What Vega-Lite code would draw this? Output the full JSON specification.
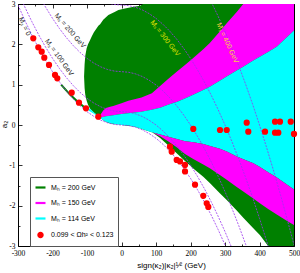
{
  "$schema": "https://vega.github.io/schema/vega-lite/v6.json",
  "width": 276,
  "height": 242,
  "autosize": "none",
  "padding": {"left": 18, "top": 4, "right": 6, "bottom": 27},
  "config": {
    "view": {"stroke": "black", "strokeWidth": 1},
    "axis": {"domain": false, "grid": false, "tickColor": "black", "tickWidth": 0.8, "labelFont": "Liberation Serif", "labelFontSize": 7.5, "labelColor": "black", "titleFont": "Liberation Sans", "titleFontSize": 8, "titleFontWeight": "normal", "titleColor": "black", "labelFlush": false, "labelOverlap": false}
  },
  "resolve": {"axis": {"x": "independent", "y": "independent"}},
  "layer": [
    {
      "data": {"values": [
        {"x": -108.5, "lo": 1.2, "hi": 1.2}, {"x": -107, "lo": 0.92, "hi": 1.5}, {"x": -105, "lo": 0.75, "hi": 1.72}, {"x": -101, "lo": 0.6, "hi": 1.9}, {"x": -97, "lo": 0.5, "hi": 2.0}, {"x": -91, "lo": 0.4, "hi": 2.11}, {"x": -86, "lo": 0.36, "hi": 2.2}, {"x": -80, "lo": 0.31, "hi": 2.3}, {"x": -72, "lo": 0.255, "hi": 2.4}, {"x": -67, "lo": 0.22, "hi": 2.46}, {"x": -62, "lo": 0.19, "hi": 2.5}, {"x": -53, "lo": 0.12, "hi": 2.61}, {"x": -38, "lo": 0.05, "hi": 2.73}, {"x": -20, "lo": 0.02, "hi": 2.8}, {"x": -9, "lo": 0.018, "hi": 2.851}, {"x": 10, "lo": -0.01, "hi": 2.89}, {"x": 35, "lo": -0.04, "hi": 2.93}, {"x": 54, "lo": -0.08, "hi": 2.955}, {"x": 63, "lo": -0.11, "hi": 3.0}, {"x": 68, "lo": -0.124, "hi": 3.0}, {"x": 88, "lo": -0.18, "hi": 3.0}, {"x": 112, "lo": -0.235, "hi": 3.0}, {"x": 135, "lo": -0.29, "hi": 3.0}, {"x": 160, "lo": -0.35, "hi": 3.0}, {"x": 184, "lo": -0.4, "hi": 3.0}, {"x": 208, "lo": -0.43, "hi": 3.0}, {"x": 237, "lo": -0.47, "hi": 3.0}, {"x": 256, "lo": -0.52, "hi": 3.0}, {"x": 285, "lo": -0.59, "hi": 3.0}, {"x": 305, "lo": -0.66, "hi": 3.0}, {"x": 334, "lo": -0.78, "hi": 3.0}, {"x": 353, "lo": -0.85, "hi": 3.0}, {"x": 382, "lo": -0.95, "hi": 3.0}, {"x": 401, "lo": -1.04, "hi": 3.0}, {"x": 425, "lo": -1.17, "hi": 3.0}, {"x": 450, "lo": -1.3, "hi": 3.0}, {"x": 480, "lo": -1.48, "hi": 3.0}, {"x": 500, "lo": -1.6, "hi": 3.0}
      ]},
      "mark": {"type": "area", "color": "#008000", "clip": true},
      "encoding": {
        "x": {"field": "x", "type": "quantitative", "scale": {"domain": [-300, 500], "nice": false, "zero": false},
              "axis": {"orient": "bottom", "values": [-300, -200, -100, 0, 100, 200, 300, 400, 500], "tickSize": -4, "labelPadding": 7, "labelExpr": "'' + datum.value", "title": "sign(κ₂)|κ₂|¹⁄² (GeV)", "titleX": 153, "titleY": 19, "titleBaseline": "middle"}},
        "y": {"field": "lo", "type": "quantitative", "scale": {"domain": [-3, 3], "nice": false, "zero": false},
              "axis": {"orient": "left", "values": [-3, -2, -1, 0, 1, 2, 3], "tickSize": -4, "labelPadding": 7, "labelExpr": "'' + datum.value", "title": "a₂", "titleX": -14, "titleY": 120, "titleBaseline": "middle"}},
        "y2": {"field": "hi"}
      }
    },
    {
      "data": {"values": [
        {"x": -64, "lo": 0.19, "hi": 0.22}, {"x": -53, "lo": 0.2, "hi": 0.36}, {"x": -45, "lo": 0.215, "hi": 0.42}, {"x": -33, "lo": 0.23, "hi": 0.45}, {"x": -24, "lo": 0.24, "hi": 0.47}, {"x": 0, "lo": 0.27, "hi": 0.54}, {"x": 20, "lo": 0.29, "hi": 0.6}, {"x": 58, "lo": 0.33, "hi": 0.68}, {"x": 88, "lo": 0.38, "hi": 0.79}, {"x": 112, "lo": 0.43, "hi": 0.97}, {"x": 135, "lo": 0.5, "hi": 1.14}, {"x": 160, "lo": 0.57, "hi": 1.32}, {"x": 184, "lo": 0.66, "hi": 1.49}, {"x": 208, "lo": 0.75, "hi": 1.66}, {"x": 237, "lo": 0.87, "hi": 1.88}, {"x": 256, "lo": 0.95, "hi": 2.03}, {"x": 285, "lo": 1.1, "hi": 2.32}, {"x": 305, "lo": 1.2, "hi": 2.52}, {"x": 334, "lo": 1.35, "hi": 2.8}, {"x": 353, "lo": 1.446, "hi": 3.0}, {"x": 382, "lo": 1.6, "hi": 3.0}, {"x": 401, "lo": 1.694, "hi": 3.0}, {"x": 425, "lo": 1.81, "hi": 3.0}, {"x": 450, "lo": 1.942, "hi": 3.0}, {"x": 480, "lo": 2.18, "hi": 3.0}, {"x": 500, "lo": 2.34, "hi": 3.0}
      ]},
      "mark": {"type": "area", "color": "#ff00ff", "clip": true},
      "encoding": {
        "x": {"field": "x", "type": "quantitative", "axis": {"orient": "bottom", "values": [-250, -150, -50, 50, 150, 250, 350, 450], "tickSize": -2, "labels": false, "title": null}},
        "y": {"field": "lo", "type": "quantitative", "axis": {"orient": "left", "values": [-2.5, -1.5, -0.5, 0.5, 1.5, 2.5], "tickSize": -2, "labels": false, "title": null}},
        "y2": {"field": "hi"}
      }
    },
    {
      "data": {"values": [
        {"x": -98, "lo": 0.37, "hi": 0.375}, {"x": -92, "lo": 0.34, "hi": 0.41}, {"x": -86, "lo": 0.31, "hi": 0.36}, {"x": -80, "lo": 0.28, "hi": 0.31}, {"x": -72, "lo": 0.23, "hi": 0.255}, {"x": -64, "lo": 0.18, "hi": 0.19}, {"x": -53, "lo": 0.12, "hi": 0.2}, {"x": -45, "lo": 0.08, "hi": 0.215}, {"x": -33, "lo": 0.045, "hi": 0.23}, {"x": -24, "lo": 0.03, "hi": 0.24}, {"x": 0, "lo": 0.0, "hi": 0.27}, {"x": 20, "lo": -0.015, "hi": 0.29}, {"x": 39, "lo": -0.042, "hi": 0.31}, {"x": 58, "lo": -0.09, "hi": 0.33}, {"x": 68, "lo": -0.124, "hi": 0.345}, {"x": 88, "lo": -0.18, "hi": 0.38}, {"x": 112, "lo": -0.235, "hi": 0.43}, {"x": 135, "lo": -0.29, "hi": 0.5}, {"x": 160, "lo": -0.35, "hi": 0.57}, {"x": 184, "lo": -0.4, "hi": 0.66}, {"x": 208, "lo": -0.43, "hi": 0.75}, {"x": 237, "lo": -0.47, "hi": 0.87}, {"x": 256, "lo": -0.52, "hi": 0.95}, {"x": 285, "lo": -0.59, "hi": 1.1}, {"x": 305, "lo": -0.66, "hi": 1.2}, {"x": 334, "lo": -0.78, "hi": 1.35}, {"x": 353, "lo": -0.85, "hi": 1.446}, {"x": 382, "lo": -0.95, "hi": 1.6}, {"x": 401, "lo": -1.04, "hi": 1.694}, {"x": 425, "lo": -1.17, "hi": 1.81}, {"x": 450, "lo": -1.3, "hi": 1.942}, {"x": 480, "lo": -1.48, "hi": 2.18}, {"x": 500, "lo": -1.6, "hi": 2.34}
      ]},
      "mark": {"type": "area", "color": "#00ffff", "clip": true},
      "encoding": {
        "x": {"field": "x", "type": "quantitative", "axis": {"orient": "top", "values": [-300, -200, -100, 0, 100, 200, 300, 400, 500], "tickSize": -4, "labels": false, "title": null}},
        "y": {"field": "lo", "type": "quantitative", "axis": {"orient": "right", "values": [-3, -2, -1, 0, 1, 2, 3], "tickSize": -4, "labels": false, "title": null}},
        "y2": {"field": "hi"}
      }
    },
    {
      "data": {"values": [
        {"x": 90, "lo": -0.185, "hi": -0.185}, {"x": 112, "lo": -0.32, "hi": -0.235}, {"x": 135, "lo": -0.5, "hi": -0.29}, {"x": 160, "lo": -0.7, "hi": -0.35}, {"x": 184, "lo": -0.89, "hi": -0.4}, {"x": 208, "lo": -1.08, "hi": -0.43}, {"x": 237, "lo": -1.28, "hi": -0.47}, {"x": 256, "lo": -1.44, "hi": -0.52}, {"x": 285, "lo": -1.69, "hi": -0.59}, {"x": 305, "lo": -1.86, "hi": -0.66}, {"x": 334, "lo": -2.12, "hi": -0.78}, {"x": 353, "lo": -2.3, "hi": -0.85}, {"x": 382, "lo": -2.56, "hi": -0.95}, {"x": 401, "lo": -2.73, "hi": -1.04}, {"x": 425, "lo": -3.0, "hi": -1.17}, {"x": 450, "lo": -3.0, "hi": -1.3}, {"x": 480, "lo": -3.0, "hi": -1.48}, {"x": 500, "lo": -3.0, "hi": -1.6}
      ]},
      "mark": {"type": "area", "color": "#008000", "clip": true},
      "encoding": {
        "x": {"field": "x", "type": "quantitative", "axis": {"orient": "top", "values": [-250, -150, -50, 50, 150, 250, 350, 450], "tickSize": -2, "labels": false, "title": null}},
        "y": {"field": "lo", "type": "quantitative", "axis": {"orient": "right", "values": [-2.5, -1.5, -0.5, 0.5, 1.5, 2.5], "tickSize": -2, "labels": false, "title": null}},
        "y2": {"field": "hi"}
      }
    },
    {
      "data": {"values": [
        {"x": 90, "lo": -0.185, "hi": -0.185}, {"x": 112, "lo": -0.28, "hi": -0.235}, {"x": 135, "lo": -0.4, "hi": -0.29}, {"x": 160, "lo": -0.55, "hi": -0.35}, {"x": 184, "lo": -0.72, "hi": -0.4}, {"x": 208, "lo": -0.84, "hi": -0.43}, {"x": 237, "lo": -0.98, "hi": -0.47}, {"x": 256, "lo": -1.07, "hi": -0.52}, {"x": 285, "lo": -1.24, "hi": -0.59}, {"x": 305, "lo": -1.36, "hi": -0.66}, {"x": 334, "lo": -1.535, "hi": -0.78}, {"x": 353, "lo": -1.65, "hi": -0.85}, {"x": 382, "lo": -1.82, "hi": -0.95}, {"x": 401, "lo": -1.94, "hi": -1.04}, {"x": 425, "lo": -2.08, "hi": -1.17}, {"x": 450, "lo": -2.22, "hi": -1.3}, {"x": 480, "lo": -2.38, "hi": -1.48}, {"x": 500, "lo": -2.48, "hi": -1.6}
      ]},
      "mark": {"type": "area", "color": "#ff00ff", "clip": true},
      "encoding": {
        "x": {"field": "x", "type": "quantitative", "axis": null},
        "y": {"field": "lo", "type": "quantitative", "axis": null},
        "y2": {"field": "hi"}
      }
    },
    {
      "data": {"values": [
        {"x": -175, "y": 1.0}, {"x": -150, "y": 0.76}, {"x": -130, "y": 0.6}, {"x": -106, "y": 0.43}
      ]},
      "mark": {"type": "line", "color": "#008000", "strokeWidth": 2, "clip": true},
      "encoding": {
        "x": {"field": "x", "type": "quantitative", "axis": null},
        "y": {"field": "y", "type": "quantitative", "axis": null}
      }
    },
    {
      "data": {"values": [
        {"ms": "0", "x": -300, "y": 2.974}, {"ms": "0", "x": -280, "y": 2.591}, {"ms": "0", "x": -260, "y": 2.234}, {"ms": "0", "x": -240, "y": 1.904}, {"ms": "0", "x": -220, "y": 1.6}, {"ms": "0", "x": -200, "y": 1.322}, {"ms": "0", "x": -180, "y": 1.071}, {"ms": "0", "x": -160, "y": 0.846}, {"ms": "0", "x": -140, "y": 0.648}, {"ms": "0", "x": -120, "y": 0.476}, {"ms": "0", "x": -100, "y": 0.33}, {"ms": "0", "x": -80, "y": 0.212}, {"ms": "0", "x": -60, "y": 0.119}, {"ms": "0", "x": -40, "y": 0.053}, {"ms": "0", "x": -20, "y": 0.013}, {"ms": "0", "x": 0, "y": 0}, {"ms": "0", "x": 20, "y": -0.013}, {"ms": "0", "x": 40, "y": -0.053}, {"ms": "0", "x": 60, "y": -0.119}, {"ms": "0", "x": 80, "y": -0.212}, {"ms": "0", "x": 100, "y": -0.33}, {"ms": "0", "x": 120, "y": -0.476}, {"ms": "0", "x": 140, "y": -0.648}, {"ms": "0", "x": 160, "y": -0.846}, {"ms": "0", "x": 180, "y": -1.071}, {"ms": "0", "x": 200, "y": -1.322}, {"ms": "0", "x": 220, "y": -1.6}, {"ms": "0", "x": 240, "y": -1.904}, {"ms": "0", "x": 260, "y": -2.234}, {"ms": "0", "x": 280, "y": -2.591}, {"ms": "0", "x": 300, "y": -2.974}, {"ms": "0", "x": 320, "y": -3.384},
        {"ms": "100", "x": -300, "y": 3.305}, {"ms": "100", "x": -280, "y": 2.922}, {"ms": "100", "x": -260, "y": 2.565}, {"ms": "100", "x": -240, "y": 2.235}, {"ms": "100", "x": -220, "y": 1.931}, {"ms": "100", "x": -200, "y": 1.653}, {"ms": "100", "x": -180, "y": 1.402}, {"ms": "100", "x": -160, "y": 1.177}, {"ms": "100", "x": -140, "y": 0.979}, {"ms": "100", "x": -120, "y": 0.807}, {"ms": "100", "x": -100, "y": 0.661}, {"ms": "100", "x": -80, "y": 0.543}, {"ms": "100", "x": -60, "y": 0.45}, {"ms": "100", "x": -40, "y": 0.384}, {"ms": "100", "x": -20, "y": 0.344}, {"ms": "100", "x": 0, "y": 0.331}, {"ms": "100", "x": 20, "y": 0.318}, {"ms": "100", "x": 40, "y": 0.278}, {"ms": "100", "x": 60, "y": 0.212}, {"ms": "100", "x": 80, "y": 0.119}, {"ms": "100", "x": 100, "y": 0.001}, {"ms": "100", "x": 120, "y": -0.146}, {"ms": "100", "x": 140, "y": -0.318}, {"ms": "100", "x": 160, "y": -0.515}, {"ms": "100", "x": 180, "y": -0.74}, {"ms": "100", "x": 200, "y": -0.992}, {"ms": "100", "x": 220, "y": -1.27}, {"ms": "100", "x": 240, "y": -1.574}, {"ms": "100", "x": 260, "y": -1.904}, {"ms": "100", "x": 280, "y": -2.261}, {"ms": "100", "x": 300, "y": -2.644}, {"ms": "100", "x": 320, "y": -3.054},
        {"ms": "200", "x": -240, "y": 3.226}, {"ms": "200", "x": -220, "y": 2.922}, {"ms": "200", "x": -200, "y": 2.644}, {"ms": "200", "x": -180, "y": 2.393}, {"ms": "200", "x": -160, "y": 2.168}, {"ms": "200", "x": -140, "y": 1.97}, {"ms": "200", "x": -120, "y": 1.798}, {"ms": "200", "x": -100, "y": 1.652}, {"ms": "200", "x": -80, "y": 1.534}, {"ms": "200", "x": -60, "y": 1.441}, {"ms": "200", "x": -40, "y": 1.375}, {"ms": "200", "x": -20, "y": 1.335}, {"ms": "200", "x": 0, "y": 1.322}, {"ms": "200", "x": 20, "y": 1.309}, {"ms": "200", "x": 40, "y": 1.269}, {"ms": "200", "x": 60, "y": 1.203}, {"ms": "200", "x": 80, "y": 1.11}, {"ms": "200", "x": 100, "y": 0.992}, {"ms": "200", "x": 120, "y": 0.846}, {"ms": "200", "x": 140, "y": 0.674}, {"ms": "200", "x": 160, "y": 0.476}, {"ms": "200", "x": 180, "y": 0.251}, {"ms": "200", "x": 200, "y": 0.0}, {"ms": "200", "x": 220, "y": -0.278}, {"ms": "200", "x": 240, "y": -0.582}, {"ms": "200", "x": 260, "y": -0.912}, {"ms": "200", "x": 280, "y": -1.269}, {"ms": "200", "x": 300, "y": -1.652}, {"ms": "200", "x": 320, "y": -2.062}, {"ms": "200", "x": 340, "y": -2.498}, {"ms": "200", "x": 360, "y": -2.961}, {"ms": "200", "x": 380, "y": -3.45},
        {"ms": "300", "x": -40, "y": 3.027}, {"ms": "300", "x": -20, "y": 2.987}, {"ms": "300", "x": 0, "y": 2.974}, {"ms": "300", "x": 20, "y": 2.961}, {"ms": "300", "x": 40, "y": 2.921}, {"ms": "300", "x": 60, "y": 2.855}, {"ms": "300", "x": 80, "y": 2.762}, {"ms": "300", "x": 100, "y": 2.644}, {"ms": "300", "x": 120, "y": 2.498}, {"ms": "300", "x": 140, "y": 2.326}, {"ms": "300", "x": 160, "y": 2.128}, {"ms": "300", "x": 180, "y": 1.903}, {"ms": "300", "x": 200, "y": 1.652}, {"ms": "300", "x": 220, "y": 1.374}, {"ms": "300", "x": 240, "y": 1.07}, {"ms": "300", "x": 260, "y": 0.74}, {"ms": "300", "x": 280, "y": 0.383}, {"ms": "300", "x": 300, "y": 0.0}, {"ms": "300", "x": 320, "y": -0.41}, {"ms": "300", "x": 340, "y": -0.846}, {"ms": "300", "x": 360, "y": -1.309}, {"ms": "300", "x": 380, "y": -1.798}, {"ms": "300", "x": 400, "y": -2.314}, {"ms": "300", "x": 420, "y": -2.856}, {"ms": "300", "x": 440, "y": -3.424},
        {"ms": "400", "x": 260, "y": 3.054}, {"ms": "400", "x": 280, "y": 2.697}, {"ms": "400", "x": 300, "y": 2.314}, {"ms": "400", "x": 320, "y": 1.904}, {"ms": "400", "x": 340, "y": 1.468}, {"ms": "400", "x": 360, "y": 1.005}, {"ms": "400", "x": 380, "y": 0.516}, {"ms": "400", "x": 400, "y": 0.0}, {"ms": "400", "x": 420, "y": -0.542}, {"ms": "400", "x": 440, "y": -1.11}, {"ms": "400", "x": 460, "y": -1.705}, {"ms": "400", "x": 480, "y": -2.327}, {"ms": "400", "x": 500, "y": -2.974}
      ]},
      "mark": {"type": "line", "color": "#9933ee", "strokeWidth": 0.8, "strokeDash": [2, 1.2], "clip": true},
      "encoding": {
        "x": {"field": "x", "type": "quantitative", "axis": null},
        "y": {"field": "y", "type": "quantitative", "axis": null},
        "detail": {"field": "ms", "type": "nominal"}
      }
    },
    {
      "data": {"values": [
        {"x": -255.7, "y": 2.15, "lab": "0.099 < Ωh² < 0.123"}, {"x": -241.2, "y": 1.927, "lab": "0.099 < Ωh² < 0.123"}, {"x": -231.3, "y": 1.818, "lab": "0.099 < Ωh² < 0.123"}, {"x": -223.8, "y": 1.669, "lab": "0.099 < Ωh² < 0.123"}, {"x": -210.1, "y": 1.488, "lab": "0.099 < Ωh² < 0.123"}, {"x": -192.7, "y": 1.24, "lab": "0.099 < Ωh² < 0.123"}, {"x": -186.1, "y": 1.158, "lab": "0.099 < Ωh² < 0.123"}, {"x": -144.3, "y": 0.801, "lab": "0.099 < Ωh² < 0.123"}, {"x": -123.2, "y": 0.553, "lab": "0.099 < Ωh² < 0.123"}, {"x": -102.9, "y": 0.414, "lab": "0.099 < Ωh² < 0.123"}, {"x": -67.2, "y": 0.206, "lab": "0.099 < Ωh² < 0.123"},
        {"x": 208.1, "y": -0.099, "lab": "0.099 < Ωh² < 0.123"}, {"x": 285.5, "y": -0.124, "lab": "0.099 < Ωh² < 0.123"}, {"x": 305, "y": -0.124, "lab": "0.099 < Ωh² < 0.123"}, {"x": 362.9, "y": 0.057, "lab": "0.099 < Ωh² < 0.123"}, {"x": 367.5, "y": -0.166, "lab": "0.099 < Ωh² < 0.123"}, {"x": 416, "y": -0.166, "lab": "0.099 < Ωh² < 0.123"}, {"x": 445, "y": 0.082, "lab": "0.099 < Ωh² < 0.123"}, {"x": 459.4, "y": 0.082, "lab": "0.099 < Ωh² < 0.123"}, {"x": 445, "y": -0.19, "lab": "0.099 < Ωh² < 0.123"}, {"x": 454.5, "y": -0.19, "lab": "0.099 < Ωh² < 0.123"}, {"x": 490.5, "y": 0.082, "lab": "0.099 < Ωh² < 0.123"}, {"x": 500, "y": -0.223, "lab": "0.099 < Ωh² < 0.123"},
        {"x": 140.6, "y": -0.538, "lab": "0.099 < Ωh² < 0.123"}, {"x": 145.5, "y": -0.661, "lab": "0.099 < Ωh² < 0.123"}, {"x": 160, "y": -0.867, "lab": "0.099 < Ωh² < 0.123"}, {"x": 169.6, "y": -0.904, "lab": "0.099 < Ωh² < 0.123"}, {"x": 184.1, "y": -0.991, "lab": "0.099 < Ωh² < 0.123"}, {"x": 184.1, "y": -1.152, "lab": "0.099 < Ωh² < 0.123"}, {"x": 213.1, "y": -1.479, "lab": "0.099 < Ωh² < 0.123"}, {"x": 237.1, "y": -1.755, "lab": "0.099 < Ωh² < 0.123"}, {"x": 247, "y": -1.941, "lab": "0.099 < Ωh² < 0.123"}, {"x": 251.6, "y": -2.032, "lab": "0.099 < Ωh² < 0.123"}
      ]},
      "mark": {"type": "point", "filled": true, "opacity": 1},
      "encoding": {
        "x": {"field": "x", "type": "quantitative", "axis": null},
        "y": {"field": "y", "type": "quantitative", "axis": null},
        "color": {"field": "lab", "type": "nominal",
          "scale": {"domain": ["Mₕ = 200 GeV", "Mₕ = 150 GeV", "Mₕ = 114 GeV", "0.099 < Ωh² < 0.123"], "range": ["#008000", "#ff00ff", "#00ffff", "#ff0000"]},
          "legend": {"orient": "none", "legendX": 12, "legendY": 173, "title": null, "padding": 4, "rowPadding": 4.5, "labelFontSize": 7, "labelFont": "Liberation Sans", "labelColor": "black", "labelOffset": 4, "strokeColor": "#555555", "fillColor": "white", "cornerRadius": 0, "symbolStrokeWidth": 2.2, "symbolOpacity": 1}
        },
        "stroke": {"field": "lab", "type": "nominal",
          "scale": {"domain": ["Mₕ = 200 GeV", "Mₕ = 150 GeV", "Mₕ = 114 GeV", "0.099 < Ωh² < 0.123"], "range": ["#008000", "#ff00ff", "#00ffff", "#ff0000"]},
          "legend": {"title": null}
        },
        "shape": {"field": "lab", "type": "nominal",
          "scale": {"domain": ["Mₕ = 200 GeV", "Mₕ = 150 GeV", "Mₕ = 114 GeV", "0.099 < Ωh² < 0.123"], "range": ["stroke", "stroke", "stroke", "circle"]},
          "legend": {"title": null}
        },
        "size": {"field": "lab", "type": "nominal",
          "scale": {"type": "ordinal", "domain": ["Mₕ = 200 GeV", "Mₕ = 150 GeV", "Mₕ = 114 GeV", "0.099 < Ωh² < 0.123"], "range": [100, 100, 100, 18]},
          "legend": {"title": null}
        }
      }
    },
    {
      "data": {"values": [{"x": -281, "y": 2.44, "t": "Mₛ = 0"}]},
      "mark": {"type": "text", "angle": 64, "font": "Liberation Sans", "fontSize": 7, "color": "#222222"},
      "encoding": {"x": {"field": "x", "type": "quantitative", "axis": null}, "y": {"field": "y", "type": "quantitative", "axis": null}, "text": {"field": "t"}}
    },
    {
      "data": {"values": [{"x": -180.6, "y": 1.674, "t": "Mₛ = 100 GeV"}]},
      "mark": {"type": "text", "angle": 54, "font": "Liberation Sans", "fontSize": 7, "color": "#222222"},
      "encoding": {"x": {"field": "x", "type": "quantitative", "axis": null}, "y": {"field": "y", "type": "quantitative", "axis": null}, "text": {"field": "t"}}
    },
    {
      "data": {"values": [{"x": -149.3, "y": 2.335, "t": "Mₛ = 200 GeV"}]},
      "mark": {"type": "text", "angle": 49, "font": "Liberation Sans", "fontSize": 7, "color": "#222222"},
      "encoding": {"x": {"field": "x", "type": "quantitative", "axis": null}, "y": {"field": "y", "type": "quantitative", "axis": null}, "text": {"field": "t"}}
    },
    {
      "data": {"values": [{"x": 126, "y": 2.15, "t": "Mₛ = 300 GeV"}]},
      "mark": {"type": "text", "angle": 52, "font": "Liberation Sans", "fontSize": 7, "color": "#e0e000"},
      "encoding": {"x": {"field": "x", "type": "quantitative", "axis": null}, "y": {"field": "y", "type": "quantitative", "axis": null}, "text": {"field": "t"}}
    },
    {
      "data": {"values": [{"x": 307, "y": 2.03, "t": "Mₛ = 400 GeV"}]},
      "mark": {"type": "text", "angle": 65, "font": "Liberation Sans", "fontSize": 7, "color": "#ffd040"},
      "encoding": {"x": {"field": "x", "type": "quantitative", "axis": null}, "y": {"field": "y", "type": "quantitative", "axis": null}, "text": {"field": "t"}}
    }
  ]
}
